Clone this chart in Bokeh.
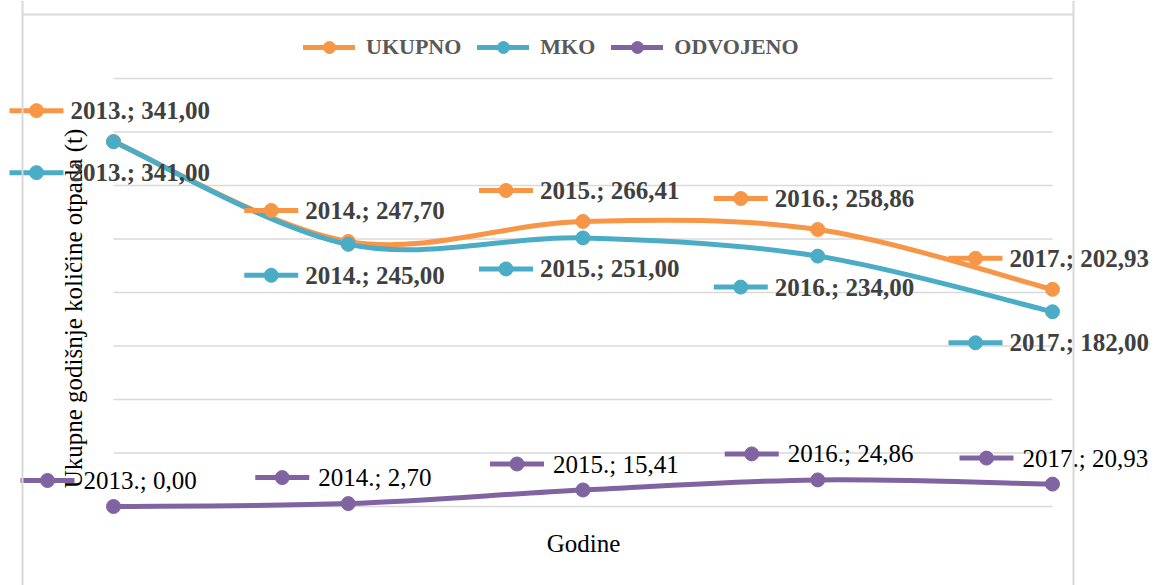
import math
from bokeh.plotting import figure
from bokeh.models import Range1d, Span, Legend, LegendItem
from bokeh.core.properties import value
from bokeh.embed import file_html
from bokeh.resources import INLINE

# ---------------- data ----------------
years = ["2013.", "2014.", "2015.", "2016.", "2017."]
ukupno = [341.00, 247.70, 266.41, 258.86, 202.93]
mko = [341.00, 245.00, 251.00, 234.00, 182.00]
odvojeno = [0.00, 2.70, 15.41, 24.86, 20.93]
y_ticks = [0, 50, 100, 150, 200, 250, 300, 350, 400]
series_names = ["UKUPNO", "MKO", "ODVOJENO"]
y_title = "Ukupne godišnje količine otpada (t)"
x_title = "Godine"

# ---------------- styles / layout ----------------
colors = ["#F79646", "#4BACC6", "#8064A2"]
GRID = "#D9D9D9"
FONT = "Liberation Serif"
W, H = 1158, 585
# pixel anchors of the plot area (canvas coordinates, y downward)
PX_FIRST, PX_LAST = 113, 1052      # first / last category
PY_ZERO, PY_TOP = 506, 78          # value 0 / value 400
n = len(years)
SX = (PX_LAST - PX_FIRST) / (n - 1)
SY = (PY_ZERO - PY_TOP) / (y_ticks[-1] - y_ticks[0])
X0 = -PX_FIRST / SX
X1 = X0 + W / SX
Y1 = y_ticks[-1] + PY_TOP / SY
Y0 = Y1 - H / SY


def dxp(px):
    return px / SX


def dyp(px):
    return px / SY


def canvas(cx, cy):
    return X0 + cx / SX, Y1 - cy / SY


p = figure(width=W, height=H, x_range=Range1d(X0, X1), y_range=Range1d(Y0, Y1),
           x_axis_type=None, y_axis_type=None, output_backend="svg",
           toolbar_location=None, min_border=0, outline_line_color=None,
           background_fill_color="white", border_fill_color="white")

# chart border (left, right, top) - bottom lies below the visible page
bx0, by0 = canvas(22, 14)
bx1, _ = canvas(1073, 14)
p.add_layout(Span(location=bx0, dimension="height", line_color=GRID, line_width=2))
p.add_layout(Span(location=bx1, dimension="height", line_color=GRID, line_width=2))
p.segment(x0=[bx0], x1=[bx1], y0=[by0], y1=[by0], line_color=GRID, line_width=2)

# gridlines only across the category span
xs = list(range(n))
p.segment(x0=[0] * len(y_ticks), x1=[n - 1] * len(y_ticks), y0=y_ticks, y1=y_ticks,
          line_color=GRID, line_width=1.5)

# axis titles
tx, ty = canvas(73, 308)
p.text(x=[tx], y=[ty], text=[y_title], angle=math.pi / 2, text_align="center",
       text_baseline="middle", text_font=value(FONT), text_font_size="25px",
       text_color="black")
gx, gy = canvas(583, 543)
p.text(x=[gx], y=[gy], text=[x_title], text_align="center", text_baseline="middle",
       text_font=value(FONT), text_font_size="25px", text_color="black")


def smooth(vals, color, f=1/6):
    m = len(vals)

    def P(i):
        i = max(0, min(m - 1, i))
        return xs[i], vals[i]
    d = dict(x0=[], y0=[], x1=[], y1=[], cx0=[], cy0=[], cx1=[], cy1=[])
    for i in range(m - 1):
        ax, ay = P(i)
        bx, by = P(i + 1)
        px_, py_ = P(i - 1)
        nx, ny = P(i + 2)
        d["x0"].append(ax); d["y0"].append(ay)
        d["x1"].append(bx); d["y1"].append(by)
        d["cx0"].append(ax + (bx - px_) * f); d["cy0"].append(ay + (by - py_) * f)
        d["cx1"].append(bx - (nx - ax) * f); d["cy1"].append(by - (ny - ay) * f)
    return p.bezier(line_color=color, line_width=5, line_cap="round", **d)


series = [ukupno, mko, odvojeno]
curves = [smooth(vals, c) for vals, c in zip(series, colors)]
dots = [p.scatter(xs, vals, size=14, fill_color=c, line_color=c)
        for vals, c in zip(series, colors)]

# data labels with legend keys (offsets in screen px: key marker relative to point)
label_offsets = [(-77, -31), (-77, 31), (-66, -26)]
text_gap = [34, 34, 36]
label_styles = [("bold", "#404040", "25px"), ("bold", "#404040", "25px"),
                ("normal", "black", "25px")]
KEY_HALF = 27


def fmt(v):
    return f"{v:.2f}".replace(".", ",")


for vals, c, (ox, oy), gap, (fs, fc, fz) in zip(series, colors, label_offsets,
                                                 text_gap, label_styles):
    kx = [x + dxp(ox) for x in xs]
    ky = [v - dyp(oy) for v in vals]
    p.segment(x0=[k - dxp(KEY_HALF) for k in kx], x1=[k + dxp(KEY_HALF) for k in kx],
              y0=ky, y1=ky, line_color=c, line_width=5)
    p.scatter(kx, ky, size=14, fill_color=c, line_color=c)
    p.text(x=[k + dxp(gap) for k in kx], y=ky,
           text=[f"{yr}; {fmt(v)}" for yr, v in zip(years, vals)],
           text_align="left", text_baseline="middle", text_font=value(FONT),
           text_font_style=fs, text_color=fc, text_font_size=fz)

# legend
items = [LegendItem(label=name, renderers=[cr, dr])
         for name, cr, dr in zip(series_names, curves, dots)]
legend = Legend(items=items, orientation="horizontal", location=(303, H - 62),
                glyph_width=52, glyph_height=30, label_height=30,
                label_standoff=11, spacing=16, padding=0, margin=0,
                border_line_color=None, background_fill_alpha=0,
                label_text_font=FONT, label_text_font_style="bold",
                label_text_font_size="22px", label_text_color="#595959")
p.add_layout(legend)

open("out.html", "w").write(file_html(p, INLINE))
